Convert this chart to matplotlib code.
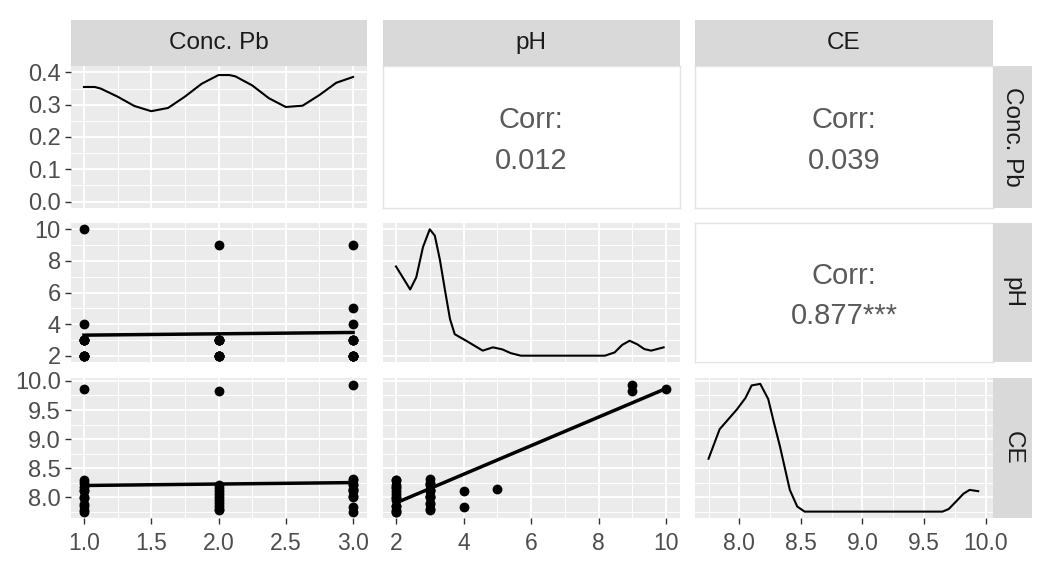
import matplotlib.pyplot as plt

plt.rcParams['font.family'] = ['Liberation Sans', 'DejaVu Sans']

#-----------------------------
var_names = ['Conc. Pb', 'pH', 'CE']

# observations (one entry per sample)
conc_pb = [1, 1, 1, 1, 1, 1, 1, 1, 1, 1, 1, 1,
           2, 2, 2, 2, 2, 2, 2, 2, 2, 2, 2,
           3, 3, 3, 3, 3, 3, 3, 3, 3, 3, 3, 3]
ph = [10, 4, 3, 3, 3, 3, 3, 2, 2, 2, 2, 2,
      9, 3, 3, 3, 3, 3, 2, 2, 2, 2, 2,
      9, 5, 4, 3, 3, 3, 3, 2, 2, 2, 2, 2]
ce = [9.86, 8.10, 7.78, 7.88, 8.00, 8.12, 8.25, 7.75, 7.85, 7.98, 8.18, 8.30,
      9.82, 7.80, 7.90, 8.00, 8.10, 8.20, 7.77, 7.85, 7.95, 8.05, 8.15,
      9.93, 8.14, 7.83, 8.02, 8.12, 8.22, 8.32, 7.75, 8.00, 8.10, 8.20, 8.30]

# density curves
pb_dens_x = [1.0, 1.08, 1.125, 1.25, 1.375, 1.5, 1.625, 1.75, 1.875, 2.0, 2.08,
             2.125, 2.25, 2.375, 2.5, 2.625, 2.75, 2.875, 3.0]
pb_dens_y = [0.355, 0.355, 0.350, 0.325, 0.296, 0.280, 0.290, 0.325, 0.365, 0.392, 0.392,
             0.388, 0.360, 0.320, 0.293, 0.297, 0.330, 0.368, 0.386]

ph_dens_x = [2.0, 2.2, 2.42, 2.6, 2.8, 3.0, 3.15, 3.3, 3.45, 3.6, 3.74, 4.08, 4.57, 4.87,
             5.15, 5.4, 5.7, 8.19, 8.48, 8.7, 8.92, 9.15, 9.36, 9.56, 9.93]
ph_dens_rel = [0.706, 0.62, 0.524, 0.62, 0.86, 1.0, 0.95, 0.76, 0.52, 0.29, 0.17, 0.118, 0.04,
               0.066, 0.05, 0.02, 0.0, 0.0, 0.026, 0.085, 0.118, 0.09, 0.052, 0.04, 0.066]

ce_dens_x = [7.75, 7.84, 7.98, 8.05, 8.10, 8.17, 8.235, 8.28, 8.33, 8.41, 8.47, 8.53,
             9.65, 9.70, 9.76, 9.82, 9.87, 9.94]
ce_dens_rel = [0.414, 0.645, 0.80, 0.89, 0.988, 1.0, 0.88, 0.70, 0.51, 0.17, 0.04, 0.0,
               0.0, 0.02, 0.079, 0.14, 0.17, 0.16]

# fitted smooth lines
fit_pb_x = [1, 3]
fit_pb_ph = [3.30, 3.47]
fit_pb_ce = [8.20, 8.25]
fit_ph_x = [2, 10]
fit_ph_ce = [7.90, 9.87]

corr_labels = {(0, 1): '0.012', (0, 2): '0.039', (1, 2): '0.877***'}

# axis settings per variable: limits, major ticks, minor ticks, labels
lims = {'Conc. Pb': (0.9, 3.1), 'pH': (1.6, 10.4), 'CE': (7.64, 10.06)}
majors = {'Conc. Pb': [1.0, 1.5, 2.0, 2.5, 3.0], 'pH': [2, 4, 6, 8, 10],
          'CE': [8.0, 8.5, 9.0, 9.5, 10.0]}
minors = {'Conc. Pb': [1.25, 1.75, 2.25, 2.75], 'pH': [3, 5, 7, 9],
          'CE': [7.75, 8.25, 8.75, 9.25, 9.75]}
major_labels = {'Conc. Pb': ['1.0', '1.5', '2.0', '2.5', '3.0'],
                'pH': ['2', '4', '6', '8', '10'],
                'CE': ['8.0', '8.5', '9.0', '9.5', '10.0']}
dens_ticks = [0.0, 0.1, 0.2, 0.3, 0.4]
dens_minor = [0.05, 0.15, 0.25, 0.35]
dens_labels = ['0.0', '0.1', '0.2', '0.3', '0.4']
data_range = {'pH': (2, 10), 'CE': (7.75, 9.95)}
#-----------------------------

W, H = 1044, 563
col_px = [(70.5, 366.5), (382.5, 679.5), (695, 993)]
row_px = [(66, 208), (223, 362), (377.5, 518)]
strip_top = (20, 66)
strip_right = (993, 1032)

panel_bg = '#EBEBEB'
strip_bg = '#D9D9D9'
tick_col = '#4D4D4D'
fs_ytick = 17
fs_xtick = 16.5
fs_strip = 17.5
fs_corr = 21


def rect(x0, x1, y0, y1):
    return [x0 / W, 1 - y1 / H, (x1 - x0) / W, (y1 - y0) / H]


def style_gray(ax, xv, yv, ydens=False):
    ax.set_facecolor(panel_bg)
    for s in ax.spines.values():
        s.set_visible(False)
    ax.set_xlim(lims[xv])
    ax.set_xticks(majors[xv])
    ax.set_xticks(minors[xv], minor=True)
    if ydens:
        ax.set_ylim(-0.02, 0.42)
        ax.set_yticks(dens_ticks)
        ax.set_yticks(dens_minor, minor=True)
    else:
        ax.set_ylim(lims[yv])
        ax.set_yticks(majors[yv])
        ax.set_yticks(minors[yv], minor=True)
    ax.grid(which='major', color='white', linewidth=1.3)
    ax.grid(which='minor', color='white', linewidth=0.7)
    ax.set_axisbelow(True)
    ax.tick_params(which='minor', length=0)
    ax.tick_params(which='major', length=4, width=1, color='#333333',
                   labelcolor=tick_col)
    ax.tick_params(axis='x', labelsize=fs_xtick, pad=6)
    ax.tick_params(axis='y', labelsize=fs_ytick, pad=3)


fig = plt.figure(figsize=(W / 100, H / 100), dpi=100)
cols = [conc_pb, ph, ce]

for i in range(3):
    for j in range(3):
        ax = fig.add_axes(rect(col_px[j][0], col_px[j][1], row_px[i][0], row_px[i][1]))
        xv, yv = var_names[j], var_names[i]
        if j > i:
            # correlation panel
            ax.set_facecolor('white')
            ax.set_xticks([])
            ax.set_yticks([])
            for s in ax.spines.values():
                s.set_color('#E3E3E3')
                s.set_linewidth(1)
            ax.text(0.5, 0.62, 'Corr:', ha='center', va='center', fontsize=fs_corr,
                    color='#5A5A5A', transform=ax.transAxes)
            ax.text(0.5, 0.33, corr_labels[(i, j)], ha='center', va='center',
                    fontsize=fs_corr, color='#5A5A5A', transform=ax.transAxes)
            continue
        style_gray(ax, xv, yv, ydens=(i == 0 and j == 0))
        if i == j:
            if i == 0:
                ax.plot(pb_dens_x, pb_dens_y, color='black', linewidth=1.5)
            elif i == 1:
                lo, hi = data_range['pH']
                ax.plot(ph_dens_x, [lo + r * (hi - lo) for r in ph_dens_rel],
                        color='black', linewidth=1.5)
            else:
                lo, hi = data_range['CE']
                ax.plot(ce_dens_x, [lo + r * (hi - lo) for r in ce_dens_rel],
                        color='black', linewidth=1.5)
        else:
            ax.scatter(cols[j], cols[i], s=50, color='black', zorder=3, linewidths=0)
            if (i, j) == (1, 0):
                ax.plot(fit_pb_x, fit_pb_ph, color='black', linewidth=2.5, zorder=4)
            elif (i, j) == (2, 0):
                ax.plot(fit_pb_x, fit_pb_ce, color='black', linewidth=2.5, zorder=4)
            else:
                ax.plot(fit_ph_x, fit_ph_ce, color='black', linewidth=2.5, zorder=4)

        # axis labels only on outer edges
        if j == 0:
            if i == 0:
                ax.set_yticklabels(dens_labels)
            else:
                ax.set_yticklabels(major_labels[yv])
        else:
            ax.tick_params(left=False, labelleft=False)
        if i == 2:
            ax.set_xticklabels(major_labels[xv])
        else:
            ax.tick_params(bottom=False, labelbottom=False)

# strips
for j in range(3):
    sax = fig.add_axes(rect(col_px[j][0], col_px[j][1], strip_top[0], strip_top[1]))
    sax.set_facecolor(strip_bg)
    sax.set_xticks([])
    sax.set_yticks([])
    for s in sax.spines.values():
        s.set_visible(False)
    sax.text(0.5, 0.5, var_names[j], ha='center', va='center', fontsize=fs_strip,
             color='#1A1A1A', transform=sax.transAxes)

for i in range(3):
    sax = fig.add_axes(rect(strip_right[0], strip_right[1], row_px[i][0], row_px[i][1]))
    sax.set_facecolor(strip_bg)
    sax.set_xticks([])
    sax.set_yticks([])
    for s in sax.spines.values():
        s.set_visible(False)
    sax.text(0.5, 0.5, var_names[i], ha='center', va='center', fontsize=fs_strip,
             color='#1A1A1A', rotation=-90, transform=sax.transAxes)

plt.savefig('out.png', dpi=100)
